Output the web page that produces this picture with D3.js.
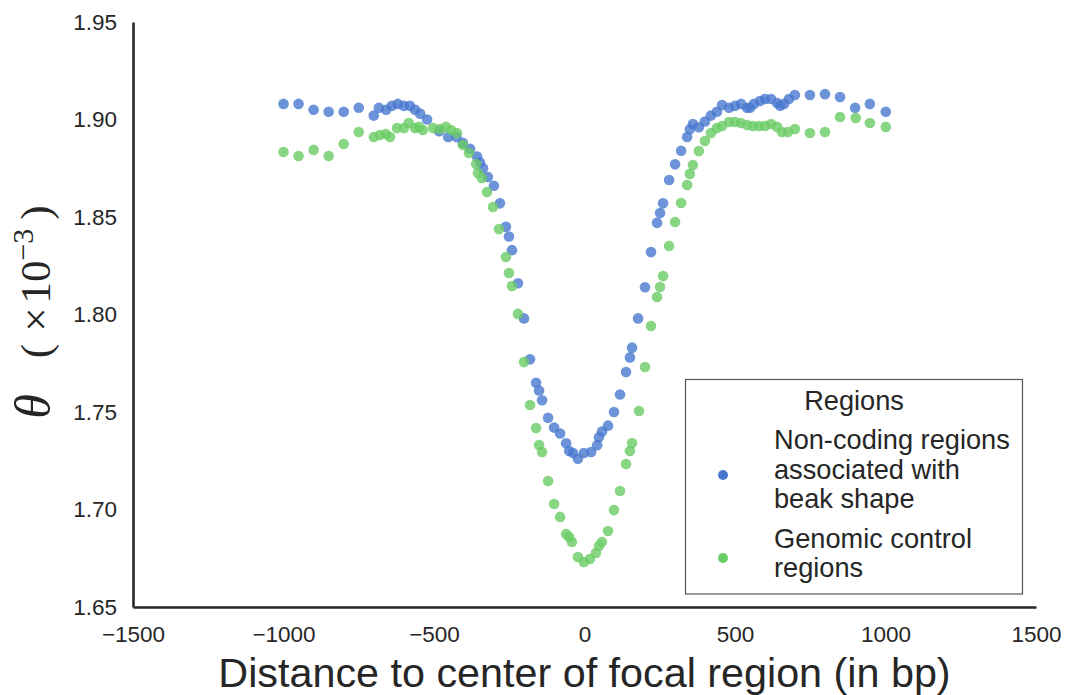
<!DOCTYPE html>
<html><head><meta charset="utf-8">
<script src="https://cdn.jsdelivr.net/npm/d3@7"></script>
<style>body{margin:0;background:#fff}</style>
</head><body><svg id="c" width="1068" height="695"></svg>
<script>
const blueX = [-1000,-950,-900,-850,-800,-750,-700,-683,-659,-640,-620,-600,-580,-563,-546,-523,-483,-453,-425,-404,-380,-357,-347,-337,-321,-301,-281,-261,-251,-241,-221,-201,-181,-161,-151,-141,-121,-101,-81,-61,-51,-38,-22,-2,22,42,48,58,78,98,118,138,151,158,178,201,221,241,251,261,281,301,321,341,350,360,380,400,420,440,457,480,500,520,540,550,563,583,600,620,640,650,663,679,699,749,799,849,899,948,1001];
const blueY = [1.908,1.908,1.905,1.904,1.904,1.906,1.902,1.906,1.905,1.907,1.908,1.907,1.907,1.905,1.903,1.900,1.894,1.891,1.891,1.888,1.885,1.881,1.878,1.875,1.8705,1.866,1.857,1.845,1.840,1.833,1.816,1.798,1.777,1.765,1.761,1.756,1.747,1.742,1.739,1.734,1.730,1.729,1.726,1.729,1.7295,1.733,1.737,1.740,1.743,1.750,1.759,1.7705,1.778,1.783,1.798,1.814,1.832,1.847,1.852,1.857,1.869,1.877,1.884,1.891,1.895,1.8977,1.896,1.899,1.902,1.904,1.9074,1.906,1.907,1.908,1.906,1.906,1.908,1.9095,1.9105,1.9105,1.9085,1.907,1.908,1.9105,1.9126,1.9126,1.913,1.9115,1.906,1.908,1.904];

const greenX = [-1000,-950,-900,-850,-800,-750,-700,-680,-660,-646,-623,-600,-584,-563,-550,-537,-503,-480,-460,-443,-424,-404,-384,-360,-354,-341,-324,-304,-284,-261,-251,-241,-221,-201,-181,-161,-151,-141,-121,-101,-81,-61,-51,-42,-22,-2,18,38,48,58,78,98,118,138,151,158,181,201,221,241,251,261,281,301,321,341,350,360,380,400,420,440,457,480,500,520,540,560,580,600,620,640,656,676,699,749,799,849,901,948,1001];
const greenY = [1.8833,1.8813,1.8844,1.8813,1.8874,1.8936,1.891,1.892,1.8926,1.891,1.8956,1.8956,1.8982,1.8956,1.8962,1.8946,1.8956,1.8951,1.8962,1.8946,1.8931,1.8869,1.8828,1.8772,1.8726,1.870,1.8628,1.8551,1.8438,1.8295,1.8213,1.8146,1.8003,1.7756,1.7536,1.7418,1.7331,1.7295,1.7146,1.7028,1.6962,1.6874,1.6859,1.6833,1.6756,1.6731,1.6746,1.6777,1.6813,1.6833,1.6890,1.6997,1.7095,1.7233,1.7300,1.7341,1.7505,1.7731,1.7941,1.8090,1.8141,1.8197,1.8351,1.8474,1.8572,1.8664,1.8721,1.8767,1.8838,1.8890,1.8931,1.8956,1.8967,1.8987,1.8987,1.8982,1.8972,1.8967,1.8967,1.8967,1.8977,1.8962,1.8936,1.8936,1.8951,1.8931,1.8936,1.9013,1.9008,1.8982,1.8962];

const xTicks = [-1500,-1000,-500,0,500,1000,1500];
const yTicks = [1.65,1.70,1.75,1.80,1.85,1.90,1.95];
const seriesLabels = [["Non-coding regions","associated with","beak shape"],["Genomic control","regions"]];
const seriesColors = ["#4878CF","#6ACC65"];
const legendTitle = "Regions";
const xTitle = "Distance to center of focal region (in bp)";

const svg = d3.select("#c");
const textColor = "#262626";
const x = d3.scaleLinear().domain([-1500,1500]).range([133,1036]);
const y = d3.scaleLinear().domain([1.65,1.95]).range([607,22]);

const gx = svg.append("g").attr("transform","translate(0,607)")
  .call(d3.axisBottom(x).tickValues(xTicks).tickSize(0).tickSizeOuter(0).tickPadding(19).tickFormat(d3.format("d")));
const gy = svg.append("g").attr("transform","translate(133,0)")
  .call(d3.axisLeft(y).tickValues(yTicks).tickSize(0).tickSizeOuter(0).tickPadding(16).tickFormat(d3.format(".2f")));
[gx,gy].forEach(g=>{
  g.select(".domain").attr("stroke",textColor).attr("stroke-width",2.6);
  g.selectAll("text").attr("font-family","'Liberation Sans', Arial, sans-serif").attr("font-size",22.5).attr("fill",textColor);
});

const series = [
  {xs: blueX, ys: blueY, color: seriesColors[0]},
  {xs: greenX, ys: greenY, color: seriesColors[1]}
];
series.forEach(s=>{
  svg.append("g").selectAll("circle").data(d3.zip(s.xs, s.ys)).join("circle")
    .attr("cx", d=>x(d[0])).attr("cy", d=>y(d[1])).attr("r",5.3)
    .attr("fill", s.color).attr("fill-opacity",0.8);
});

// x title
svg.append("text").attr("x",584.5).attr("y",687).attr("text-anchor","middle")
  .attr("font-family","'Liberation Sans', Arial, sans-serif").attr("font-size",41.3).attr("fill",textColor)
  .text(xTitle);

// y title
const yl = svg.append("text").attr("transform","translate(50,312) rotate(-90)").attr("text-anchor","middle")
  .attr("font-family","'Liberation Serif', 'DejaVu Serif', serif").attr("font-size",43).attr("fill",textColor);
yl.append("tspan").attr("font-style","italic").attr("font-size",50).text("θ");
yl.append("tspan").attr("dx",36).text("(");
yl.append("tspan").attr("dx",12).text("×");
yl.append("tspan").attr("dx",4).text("10");
yl.append("tspan").attr("dy",-17).attr("font-size",30).text("−3");
yl.append("tspan").attr("dy",17).attr("dx",9).text(")");

// legend
const lg = svg.append("g");
lg.append("rect").attr("x",685.5).attr("y",379.5).attr("width",337).attr("height",214.5)
  .attr("fill","#fff").attr("stroke","#555").attr("stroke-width",1.2);
const lf = "'Liberation Sans', Arial, sans-serif";
lg.append("text").attr("x",854).attr("y",410).attr("text-anchor","middle").attr("font-family",lf)
  .attr("font-size",27.2).attr("fill",textColor).text(legendTitle);
const entryY = [[449,479,508],[548,577]];
const markerY = [475,558];
seriesLabels.forEach((lines,i)=>{
  lg.append("circle").attr("cx",723).attr("cy",markerY[i]).attr("r",5).attr("fill",seriesColors[i]);
  lines.forEach((t,j)=>{
    lg.append("text").attr("x",774).attr("y",entryY[i][j]).attr("font-family",lf).attr("font-size",27.2)
      .attr("fill",textColor).text(t);
  });
});
</script>
</body></html>
